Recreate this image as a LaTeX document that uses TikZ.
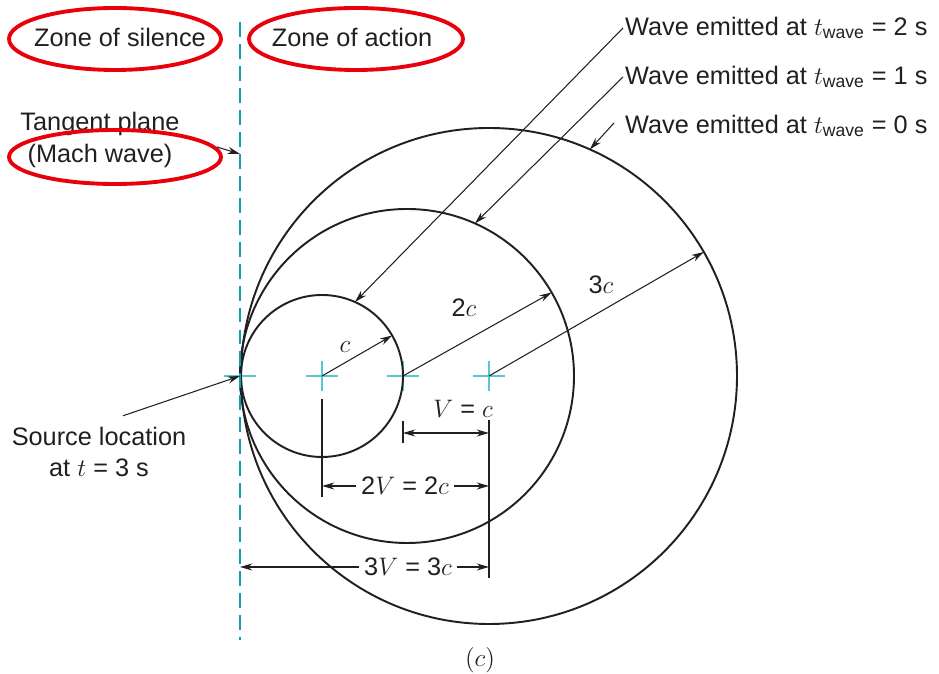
\documentclass[tikz,border=0pt]{standalone}
\usepackage{fontspec}
\setmainfont{Liberation Sans}
\usepackage{amsmath}
\definecolor{mach}{HTML}{0E9FB4}
\definecolor{hair}{HTML}{5CC6CF}
\definecolor{ringred}{HTML}{E8000B}
\definecolor{ink}{HTML}{231F20}
\usetikzlibrary{arrows.meta, shapes.geometric}
\tikzset{
  wave/.style={draw=ink, line width=1.1pt},
  lead/.style={-{Stealth[length=7pt,width=4pt]}, draw=ink, line width=0.6pt},
  both/.style={{Stealth[length=7pt,width=4pt]}-{Stealth[length=7pt,width=4pt]}, draw=ink, line width=0.6pt},
  ext/.style={draw=ink, line width=0.6pt},
  lbl/.style={font=\fontsize{14.4}{18}\selectfont, text=ink, inner sep=1pt},
  zone/.style={draw=ringred, line width=2.2pt},
}
\begin{document}
\begin{tikzpicture}[x=0.2mm,y=0.2mm,
    hl/.style={draw=hair,line width=1pt},
    plane/.style={draw=mach,line width=1.7pt,dash pattern=on 8.5pt off 4pt}]
  \useasboundingbox (-240,-298) rectangle (699,376);
  \coordinate (S) at (0,0);
  \coordinate (X1) at (82,0);
  \coordinate (X2) at (163,0);
  \coordinate (O2) at (167,0);
  \coordinate (X3) at (249,0);
  \foreach \p in {S,X1,X2,X3}
    \draw[hl] ([shift={(-16,0)}]\p)--([shift={(16,0)}]\p) ([shift={(0,-15)}]\p)--([shift={(0,15)}]\p);
  \draw[wave] (X1) circle[radius=81];
  \draw[wave] (O2) circle[radius=167];
  \draw[wave] (X3) circle[radius=248];
  \coordinate (top) at (0,354);
  \coordinate (bot) at (0,-264);
  \draw[plane] (top)--(bot);

  \node[lbl] (silence) at (-120,339) {Zone of silence};
  \draw[zone] ([shift={(-5,-2)}]silence) ellipse[x radius=106,y radius=31];
  \node[lbl] (action) at (112,339) {Zone of action};
  \draw[zone] ([shift={(4,-2)}]action) ellipse[x radius=107,y radius=31];
  \node[lbl,align=center] (tangent) at (-140,236) {Tangent plane\\(Mach wave)};
  \draw[zone] ([shift={(15,-17)}]tangent) ellipse[x radius=106,y radius=27];
  \coordinate (tp) at (0,222);
  \draw[lead] ([shift={(117,-7)}]tangent.center)--(tp);

  \node[lbl,anchor=west] (w2) at (383,348) {Wave emitted at $t_{\text{wave}}$ = 2 s};
  \node[lbl,anchor=west] (w1) at (383,299) {Wave emitted at $t_{\text{wave}}$ = 1 s};
  \node[lbl,anchor=west] (w0) at (383,250) {Wave emitted at $t_{\text{wave}}$ = 0 s};
  \coordinate (a2) at ([shift={(66:81)}]X1);
  \coordinate (a1) at ([shift={(66:167)}]O2);
  \coordinate (a0) at ([shift={(66:248)}]X3);
  \draw[lead] (w2.west)--(a2);
  \draw[lead] (w1.west)--(a1);
  \draw[lead] ([shift={(-9,3)}]w0.west)--(a0);

  \node[lbl,align=center] (src) at (-141,-76) {Source location\\at $t$ = 3 s};
  \draw[lead] ([shift={(24,9)}]src.north)--(S);

  \coordinate (r1) at ([shift={(30:81)}]X1);
  \coordinate (r2) at ([shift={(30:167)}]O2);
  \coordinate (r3) at ([shift={(30:248)}]X3);
  \draw[lead] (X1)--(r1);
  \draw[lead] (X2)--(r2);
  \draw[lead] (X3)--(r3);
  \node[lbl] (lc) at (105,29) {$c$};
  \node[lbl] (l2c) at (224,68) {2$c$};
  \node[lbl] (l3c) at (361,91) {3$c$};

  \draw[ext] ([shift={(0,-45)}]X2)--([shift={(0,-67)}]X2);
  \draw[ext] ([shift={(0,-44)}]X3)--([shift={(0,-202)}]X3);
  \draw[ext] ([shift={(0,-23)}]X1)--([shift={(0,-121)}]X1);
  \node[lbl] (v1) at (223,-33) {$V$ = $c$};
  \coordinate (v1l) at (163,-57);
  \coordinate (v1r) at (249,-57);
  \draw[both] (v1l)--(v1r);
  \node[lbl,inner xsep=3pt] (v2) at (165,-110) {2$V$ = 2$c$};
  \draw[lead] (v2.west)--(v2.west -| X1);
  \draw[lead] (v2.east)--(v2.east -| X3);
  \node[lbl,inner xsep=3pt] (v3) at (168,-191) {3$V$ = 3$c$};
  \draw[lead] (v3.west)--(v3.west -| S);
  \draw[lead] (v3.east)--(v3.east -| X3);
  \node[lbl] (cap) at (240,-284) {$(c)$};
\end{tikzpicture}
\end{document}
